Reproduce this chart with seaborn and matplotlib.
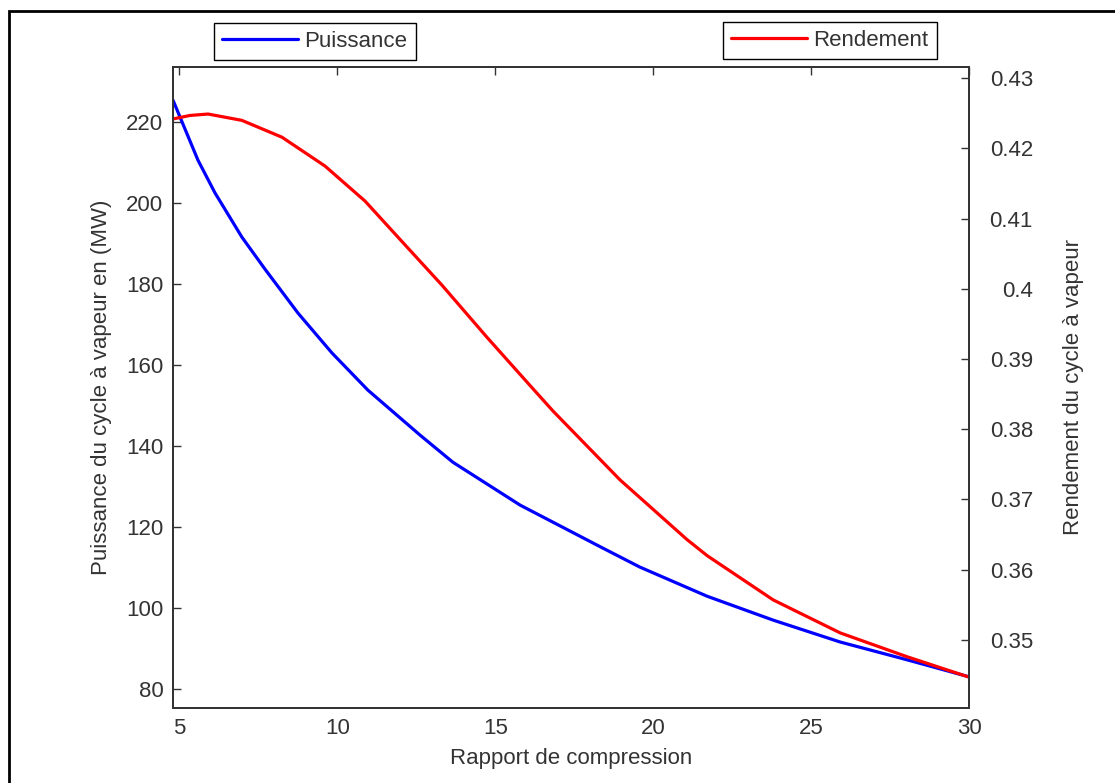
import pandas as pd
import matplotlib.pyplot as plt
import seaborn as sns
from matplotlib.patches import Rectangle

# -----------------------------------------------------------
# Donnees
# -----------------------------------------------------------
# Puissance du cycle a vapeur (MW) selon le rapport de compression
rapport_p = [4.8, 5.59, 6.13, 6.98, 7.71, 8.76, 9.83, 10.97, 12.62, 13.66,
             15.79, 18.33, 19.58, 21.71, 23.80, 25.92, 28.04, 30.0]
puissance = [225.4, 210.6, 202.5, 191.6, 183.7, 172.8, 163.0, 153.8, 142.7, 136.0,
             125.4, 115.1, 110.1, 102.9, 97.0, 91.6, 87.2, 83.0]

# Rendement du cycle a vapeur selon le rapport de compression
rapport_r = [4.8, 5.34, 5.91, 6.98, 8.25, 9.61, 10.88, 12.24, 13.32, 14.74,
             16.17, 16.83, 18.95, 21.07, 21.71, 23.80, 25.92, 28.04, 30.0]
rendement = [0.4242, 0.4247, 0.4249, 0.4240, 0.4216, 0.4175, 0.4125, 0.4058, 0.4005, 0.3931,
             0.3859, 0.3826, 0.3728, 0.3643, 0.3620, 0.3557, 0.3510, 0.3476, 0.3447]

xticks = [5, 10, 15, 20, 25, 30]
yticks_p = [80, 100, 120, 140, 160, 180, 200, 220]
yticks_r = [0.35, 0.36, 0.37, 0.38, 0.39, 0.40, 0.41, 0.42, 0.43]
yticklabels_r = ['0.35', '0.36', '0.37', '0.38', '0.39', '0.4', '0.41', '0.42', '0.43']

df_p = pd.DataFrame({'rapport': rapport_p, 'puissance': puissance})
df_r = pd.DataFrame({'rapport': rapport_r, 'rendement': rendement})

# -----------------------------------------------------------
# Style
# -----------------------------------------------------------
sns.set_theme(style='white')
plt.rcParams['font.family'] = ['Liberation Sans', 'DejaVu Sans']
txt = '#333333'
fs = 16

fig = plt.figure(figsize=(11.15, 7.83), dpi=100)
ax1 = fig.add_axes([173 / 1115, 1 - 708 / 783, 796 / 1115, 641 / 783])
ax2 = ax1.twinx()

sns.lineplot(data=df_p, x='rapport', y='puissance', ax=ax1, color='#0000ff',
             linewidth=2.3, label='Puissance', legend=False)
sns.lineplot(data=df_r, x='rapport', y='rendement', ax=ax2, color='#ff0000',
             linewidth=2.3, label='Rendement', legend=False)

ax1.set_xlim(4.8, 30.0)
ax1.set_ylim(75.3, 233.6)
ax2.set_ylim(0.3403, 0.4316)

ax1.set_xticks(xticks)
ax1.set_xticklabels([str(v) for v in xticks])
ax1.set_yticks(yticks_p)
ax1.set_yticklabels([str(v) for v in yticks_p])
ax2.set_yticks(yticks_r)
ax2.set_yticklabels(yticklabels_r)

for ax in (ax1, ax2):
    for sp in ax.spines.values():
        sp.set_color('#333333')
        sp.set_linewidth(1.3)
    ax.tick_params(direction='in', length=5.5, width=1, color='#333333',
                   labelsize=fs, labelcolor=txt)

ax1.tick_params(axis='x', top=True, pad=7)
ax1.tick_params(axis='y', left=True, right=False, pad=7)
ax2.tick_params(axis='y', right=True, left=False, pad=46)
for lab in ax2.get_yticklabels():
    lab.set_horizontalalignment('right')

ax1.set_xlabel('Rapport de compression', fontsize=fs, color=txt, labelpad=7)
ax1.set_ylabel('Puissance du cycle à vapeur en (MW)', fontsize=fs, color=txt, labelpad=10)
ax2.set_ylabel('Rendement du cycle à vapeur', fontsize=fs, color=txt, labelpad=22)

# Deux legendes separees au-dessus du graphique
h1, l1 = ax1.get_legend_handles_labels()
h2, l2 = ax2.get_legend_handles_labels()
leg_kw = dict(loc='center', bbox_transform=fig.transFigure, fontsize=fs,
              frameon=True, fancybox=False, framealpha=1, edgecolor='black',
              handlelength=3.4, handletextpad=0.3, borderpad=0.38, borderaxespad=0)
leg1 = fig.legend(h1, l1, bbox_to_anchor=(315 / 1115, 1 - 41.5 / 783), **leg_kw)
leg2 = fig.legend(h2, l2, bbox_to_anchor=(830 / 1115, 1 - 40.5 / 783), **leg_kw)
for leg in (leg1, leg2):
    leg.get_frame().set_linewidth(1.0)
    for t in leg.get_texts():
        t.set_color(txt)

# Cadre de la figure (bords haut et gauche)
fig.add_artist(Rectangle((9 / 1115, -0.5), 2.0, 0.5 + 1 - 10.5 / 783,
                         transform=fig.transFigure, fill=False, lw=2,
                         edgecolor='black', clip_on=False))

fig.savefig('out.png', dpi=100)
